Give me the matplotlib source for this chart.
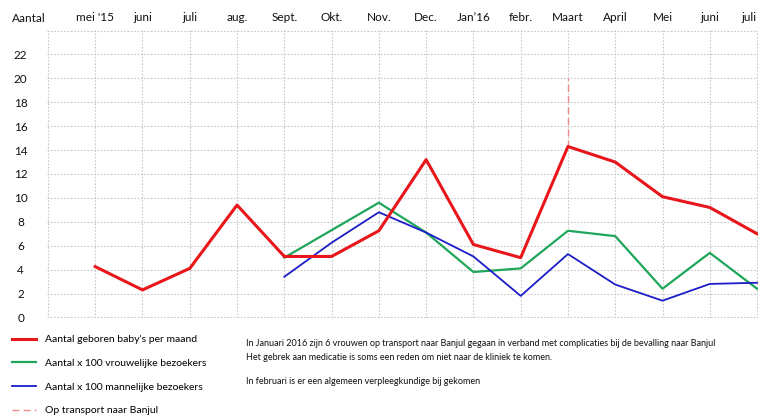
import matplotlib
matplotlib.use("Agg")
import matplotlib.pyplot as plt

plt.rcParams['font.family'] = ['Lato', 'DejaVu Sans']

months = ["mei '15", "juni", "juli", "aug.", "Sept.", "Okt.", "Nov.", "Dec.",
          "Jan\u201916", "febr.", "Maart", "April", "Mei", "juni", "juli"]

geboren = [4.25, 2.3, 4.1, 9.4, 5.1, 5.1, 7.25, 13.2, 6.1, 5.0, 14.3, 13.0, 10.1, 9.2, 7.0]
vrouwen = [None, None, None, None, 5.0, 7.3, 9.6, 7.1, 3.8, 4.1, 7.25, 6.8, 2.4, 5.4, 2.4]
mannen = [None, None, None, None, 3.4, 6.25, 8.8, 7.1, 5.1, 1.8, 5.3, 2.75, 1.4, 2.8, 2.9]

transport_month = 10
transport_top = 20

legend_labels = ["Aantal geboren baby's per maand",
                 "Aantal x 100 vrouwelijke bezoekers",
                 "Aantal x 100 mannelijke bezoekers",
                 "Op transport naar Banjul"]

notes = ["In Januari 2016 zijn 6 vrouwen op transport naar Banjul gegaan in verband met complicaties bij de bevalling naar Banjul",
         "Het gebrek aan medicatie is soms een reden om niet naar de kliniek te komen.",
         "In februari is er een algemeen verpleegkundige bij gekomen"]

fig = plt.figure(figsize=(7.61, 4.17), dpi=100)
ax = fig.add_axes([47/761, 1 - 318/417, (758-47)/761, (318-30)/417])

x = list(range(len(months)))
xs_v = [i for i, v in zip(x, vrouwen) if v is not None]
ys_v = [v for v in vrouwen if v is not None]
xs_m = [i for i, v in zip(x, mannen) if v is not None]
ys_m = [v for v in mannen if v is not None]

l1, = ax.plot(x, geboren, color='#e8161b', lw=2.2, label=legend_labels[0], zorder=4)
l2, = ax.plot(xs_v, ys_v, color='#1fa65a', lw=1.6, label=legend_labels[1], zorder=3)
l3, = ax.plot(xs_m, ys_m, color='#1c1cc8', lw=1.3, label=legend_labels[2], zorder=3)
l4, = ax.plot([transport_month, transport_month], [geboren[transport_month], transport_top],
              color='#ee8a8a', lw=1.0, ls=(0, (5, 3)), label=legend_labels[3], zorder=2)

ax.set_xticks(range(-1, 15))
ax.set_xticklabels([''] + months)
ax.set_yticks(range(0, 25, 2))
ax.set_yticklabels([str(v) for v in range(0, 24, 2)] + [''], ha='center')
ax.set_xlim(-1.02, 14.02)
ax.set_ylim(-0.05, 24.05)
ax.xaxis.tick_top()
ax.tick_params(axis='x', length=0, pad=5, labelsize=8.5, colors='#111111')
ax.tick_params(axis='y', length=0, pad=19, labelsize=8.5, colors='#111111')
ax.get_xticklabels()[-1].set_horizontalalignment('right')
for s in ax.spines.values():
    s.set_visible(False)
ax.grid(True, color='#c8c8c8', lw=0.8, ls=(0, (1.5, 1.5)))
ax.set_axisbelow(True)

fig.text(12/761, 1 - 19/417, "Aantal", fontsize=8.5, va='center', ha='left', color='#111111')

fig.legend(handles=[l1, l2, l3, l4], loc='upper left', bbox_to_anchor=(12/761, 1 - 335/417),
           frameon=False, fontsize=7.5, handlelength=2.3, handletextpad=0.9, labelspacing=1.38,
           borderaxespad=0, borderpad=0)

note_y = [343, 358, 382]
for t, yy in zip(notes, note_y):
    fig.text(246/761, 1 - yy/417, t, fontsize=6.5, va='center', ha='left', color='#111111')

fig.savefig("out.png", dpi=100)
